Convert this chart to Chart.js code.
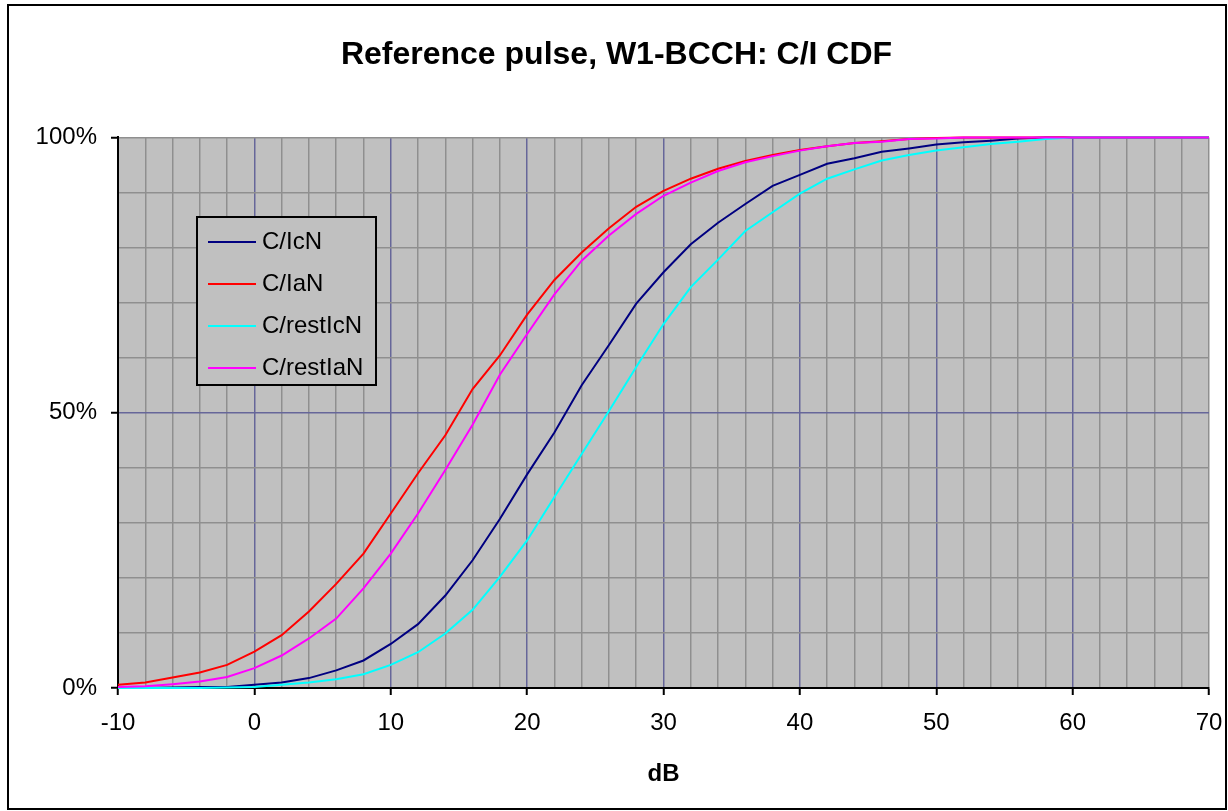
<!DOCTYPE html>
<html>
<head>
<meta charset="utf-8">
<title>Reference pulse, W1-BCCH: C/I CDF</title>
<script src="https://cdn.jsdelivr.net/npm/chart.js@4/dist/chart.umd.min.js"></script>
<style>
  html, body { margin: 0; padding: 0; background: #fff; }
  #wrap { width: 1228px; height: 811px; }
</style>
</head>
<body>
<div id="wrap"><canvas id="chart" width="1228" height="811"></canvas></div>
<script>
// ---------- data (dB, % of samples) ----------
const dbValues = [-10, -8, -6, -4, -2, 0, 2, 4, 6, 8, 10, 12, 14, 16, 18, 20, 22, 24, 26, 28,
  30, 32, 34, 36, 38, 40, 42, 44, 46, 48, 50, 52, 54, 56, 58, 60, 62, 64, 66, 68, 70];

const cIcN = [0, 0, 0.1, 0.2, 0.2, 0.6, 1.0, 1.8, 3.2, 5.0, 8.0, 11.6, 16.8, 23.2, 30.7, 38.8, 46.4, 55.0, 62.3, 69.8,
  75.5, 80.6, 84.5, 87.9, 91.2, 93.2, 95.2, 96.2, 97.4, 98.0, 98.7, 99.1, 99.4, 99.8, 100, 100, 100, 100, 100, 100, 100];
const cIaN = [0.6, 1.0, 1.9, 2.8, 4.2, 6.6, 9.6, 13.9, 18.9, 24.4, 31.7, 39.0, 45.9, 54.3, 60.4, 67.8, 74.1, 79.1, 83.5, 87.4,
  90.3, 92.5, 94.3, 95.7, 96.8, 97.7, 98.4, 99.0, 99.3, 99.7, 99.9, 100, 100, 100, 100, 100, 100, 100, 100, 100, 100];
const cRestIcN = [0, 0, 0, 0, 0.1, 0.2, 0.6, 1.0, 1.6, 2.5, 4.2, 6.5, 9.9, 14.2, 20.2, 26.8, 34.7, 42.5, 50.3, 58.3,
  66.1, 72.8, 77.8, 83.0, 86.4, 89.8, 92.5, 94.2, 95.8, 96.8, 97.6, 98.2, 98.8, 99.2, 99.7, 100, 100, 100, 100, 100, 100];
const cRestIaN = [0.2, 0.3, 0.7, 1.2, 2.0, 3.6, 5.9, 9.0, 12.6, 18.1, 24.4, 31.7, 39.6, 47.8, 56.9, 64.3, 71.5, 77.6, 82.2, 86.1,
  89.4, 91.8, 93.9, 95.5, 96.6, 97.6, 98.4, 99.0, 99.2, 99.7, 99.8, 100, 100, 100, 100, 100, 100, 100, 100, 100, 100];

const seriesNames = ["C/IcN", "C/IaN", "C/restIcN", "C/restIaN"];
const seriesValues = [cIcN, cIaN, cRestIcN, cRestIaN];
const seriesColors = ["#000080", "#ff0000", "#00ffff", "#ff00ff"];

const xTicksMajor = [-10, 0, 10, 20, 30, 40, 50, 60, 70];
const yTickLabels = { 0: "0%", 50: "50%", 100: "100%" };

// ---------- look ----------
const FONT = '"Liberation Sans", Arial, Helvetica, sans-serif';
const PLOT_BG = "#c0c0c0";
const GRID_GRAY = "#8f8f8f";
const GRID_BLUE = "#666699";

Chart.defaults.font.family = FONT;
Chart.defaults.color = "#000";

// frame around the whole chart + grey plot area
const backdrop = {
  id: "backdrop",
  beforeDraw(chart) {
    const { ctx, chartArea: a } = chart;
    ctx.save();
    ctx.fillStyle = "#fff";
    ctx.fillRect(0, 0, chart.width, chart.height);
    ctx.fillStyle = PLOT_BG;
    ctx.fillRect(a.left, a.top, a.right - a.left, a.bottom - a.top);
    ctx.strokeStyle = "#000";
    ctx.lineWidth = 2;
    ctx.strokeRect(8, 5, 1218, 804);
    ctx.restore();
  },
};

// boxed legend floating inside the plot, like the original
const boxLegend = {
  id: "boxLegend",
  afterDatasetsDraw(chart) {
    const { ctx } = chart;
    const x = 197, y = 217, w = 179, h = 168, rowH = 42;
    ctx.save();
    ctx.fillStyle = PLOT_BG;
    ctx.fillRect(x, y, w, h);
    ctx.strokeStyle = "#000";
    ctx.lineWidth = 2;
    ctx.strokeRect(x, y, w, h);
    ctx.font = "24px " + FONT;
    ctx.textBaseline = "middle";
    ctx.textAlign = "left";
    chart.data.datasets.forEach((ds, i) => {
      const cy = y + 25 + i * rowH;
      ctx.strokeStyle = ds.borderColor;
      ctx.lineWidth = 2;
      ctx.beginPath();
      ctx.moveTo(208, cy);
      ctx.lineTo(256, cy);
      ctx.stroke();
      ctx.fillStyle = "#000";
      ctx.fillText(ds.label, 262, cy);
    });
    ctx.restore();
  },
};

const datasets = seriesNames.map((name, i) => ({
  label: name,
  data: dbValues.map((x, j) => ({ x: x, y: seriesValues[i][j] })),
  borderColor: seriesColors[i],
  backgroundColor: seriesColors[i],
  borderWidth: 2,
  pointRadius: 0,
  tension: 0,
  clip: 3,
  order: 4 - i, // later series on top, as in the original
}));

new Chart(document.getElementById("chart"), {
  type: "line",
  data: { datasets },
  plugins: [backdrop, boxLegend],
  options: {
    responsive: false,
    animation: false,
    events: [],
    layout: { padding: { left: 24, right: 19, top: 0, bottom: 0 } },
    plugins: {
      legend: { display: false },
      tooltip: { enabled: false },
      title: {
        display: true,
        text: "Reference pulse, W1-BCCH: C/I CDF",
        font: { size: 32, weight: "bold" },
        color: "#000",
        padding: { top: 36, bottom: 63 },
      },
    },
    scales: {
      x: {
        type: "linear",
        min: -10,
        max: 70,
        afterFit: (scale) => {
          scale.height = 123;
          scale.paddingLeft = 0;
          scale.paddingRight = 0;
        },
        ticks: {
          stepSize: 2,
          autoSkip: false,
          maxRotation: 0,
          padding: 14,
          font: { size: 24 },
          callback: (v) => (xTicksMajor.includes(v) ? String(v) : ""),
        },
        grid: {
          lineWidth: 1.5,
          color: (c) => (c.tick && c.tick.value % 10 === 0 && c.tick.value !== 70 ? GRID_BLUE : GRID_GRAY),
          tickLength: 7,
          tickWidth: 2,
          tickColor: (c) => (c.tick && xTicksMajor.includes(c.tick.value) ? "#000" : "rgba(0,0,0,0)"),
        },
        border: { color: "#000", width: 2 },
        title: {
          display: true,
          text: "dB",
          font: { size: 24, weight: "bold" },
          padding: { top: 0, bottom: 22 },
        },
      },
      y: {
        min: 0,
        max: 100,
        afterFit: (scale) => { scale.width = 94; },
        ticks: {
          stepSize: 10,
          padding: 14,
          font: { size: 24 },
          callback: (v) => (yTickLabels[v] !== undefined ? yTickLabels[v] : ""),
        },
        grid: {
          lineWidth: 1.5,
          color: (c) => (c.tick && c.tick.value === 50 ? GRID_BLUE : GRID_GRAY),
          tickLength: 7,
          tickWidth: 2,
          tickColor: (c) => (c.tick && yTickLabels[c.tick.value] !== undefined ? "#000" : "rgba(0,0,0,0)"),
        },
        border: { color: "#000", width: 2 },
      },
    },
  },
});
</script>
</body>
</html>
